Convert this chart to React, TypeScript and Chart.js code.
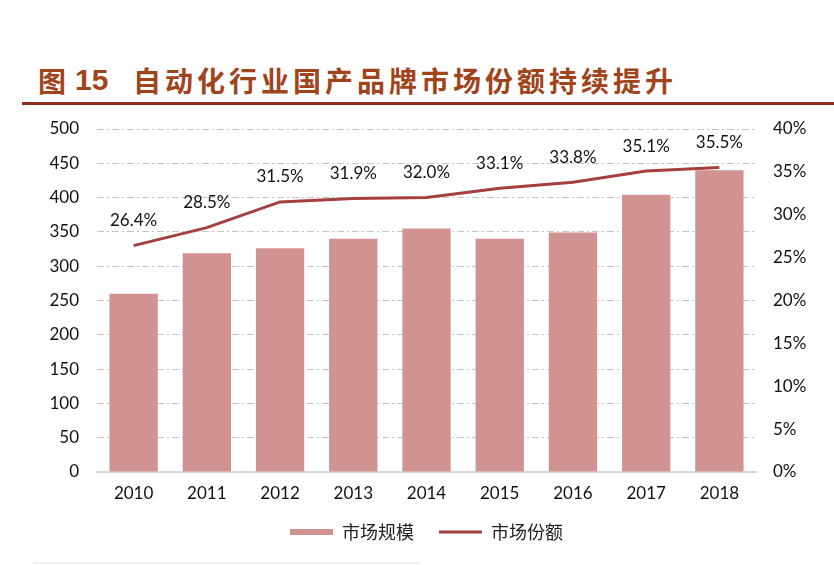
import React, { useEffect, useRef } from 'react';
import { Chart, registerables } from 'chart.js';

Chart.register(...registerables);

const years = ['2010', '2011', '2012', '2013', '2014', '2015', '2016', '2017', '2018'];
const marketSize = [260, 319, 326, 340, 355, 340, 349, 404, 440];
const marketShare = [26.4, 28.5, 31.5, 31.9, 32.0, 33.1, 33.8, 35.1, 35.5];
const seriesNames = ['市场规模', '市场份额'];
const titleNo = '15';
const titleText = '自动化行业国产品牌市场份额持续提升';

const BAR_COLOR = '#D09392';
const LINE_COLOR = '#A5403E';
const TICK_FONT = { family: 'Lato, "Open Sans", sans-serif', size: 17 };

const pointLabels = {
  id: 'pointLabels',
  afterDatasetsDraw(chart: any) {
    const meta = chart.getDatasetMeta(1);
    const ctx = chart.ctx;
    ctx.save();
    ctx.font = '17px Lato, "Open Sans", sans-serif';
    ctx.fillStyle = '#111';
    ctx.textAlign = 'center';
    ctx.textBaseline = 'middle';
    meta.data.forEach((pt: any, i: number) => {
      ctx.fillText(marketShare[i].toFixed(1) + '%', pt.x, pt.y - 25);
    });
    ctx.restore();
  },
};

export default function App() {
  const ref = useRef<HTMLCanvasElement>(null);

  useEffect(() => {
    if (!ref.current) return;
    const chart = new Chart(ref.current, {
      type: 'bar',
      data: {
        labels: years,
        datasets: [
          {
            type: 'bar',
            label: seriesNames[0],
            data: marketSize,
            backgroundColor: BAR_COLOR,
            borderWidth: 0,
            barPercentage: 0.66,
            categoryPercentage: 1,
            yAxisID: 'y',
            order: 1,
          },
          {
            type: 'line',
            label: seriesNames[1],
            data: marketShare,
            borderColor: LINE_COLOR,
            backgroundColor: LINE_COLOR,
            borderWidth: 3,
            pointRadius: 0,
            tension: 0,
            yAxisID: 'y1',
            order: 0,
          } as any,
        ],
      },
      options: {
        responsive: false,
        animation: false,
        layout: { padding: { top: 19, bottom: 14, left: 0, right: 0 } },
        plugins: {
          tooltip: { enabled: false },
          legend: {
            position: 'bottom',
            fullSize: false,
            labels: {
              usePointStyle: true,
              pointStyleWidth: 43,
              boxHeight: 6,
              padding: 10,
              color: '#222',
              font: { family: '"Noto Sans CJK SC", sans-serif', size: 18 },
              generateLabels: (c: any) => [
                {
                  text: c.data.datasets[0].label + '\u2002\u2004',
                  fillStyle: BAR_COLOR,
                  strokeStyle: BAR_COLOR,
                  lineWidth: 0,
                  pointStyle: 'rect',
                  hidden: false,
                  datasetIndex: 0,
                  fontColor: '#222',
                },
                {
                  text: c.data.datasets[1].label,
                  fillStyle: LINE_COLOR,
                  strokeStyle: LINE_COLOR,
                  lineWidth: 3,
                  pointStyle: 'line',
                  hidden: false,
                  datasetIndex: 1,
                  fontColor: '#222',
                },
              ],
            },
          },
        },
        scales: {
          x: {
            grid: { display: false, drawTicks: false },
            border: { display: true, color: '#d9d9d9', width: 2 },
            ticks: { color: '#111', font: TICK_FONT, padding: 11 },
            afterFit: (s: any) => { s.height = 41; },
          },
          y: {
            position: 'left',
            min: 0,
            max: 500,
            ticks: { stepSize: 50, color: '#111', font: TICK_FONT, padding: 18 },
            grid: { color: '#c4c4c4', lineWidth: 1, drawTicks: false },
            border: { display: false, dash: [7, 3, 2, 3] },
            afterFit: (s: any) => { s.width = 97; s.paddingTop = 10; s.paddingBottom = 10; },
          },
          y1: {
            position: 'right',
            min: 0,
            max: 40,
            ticks: {
              stepSize: 5,
              color: '#111',
              font: TICK_FONT,
              padding: 17,
              callback: (v: any) => v + '%',
            },
            grid: { display: false, drawTicks: false },
            border: { display: false },
            afterFit: (s: any) => { s.width = 78; s.paddingTop = 10; s.paddingBottom = 10; },
          },
        },
      },
      plugins: [pointLabels],
    });
    return () => chart.destroy();
  }, []);

  const cjk = '"Noto Sans CJK SC", sans-serif';
  return (
    <div style={{ position: 'absolute', left: 0, top: 0, width: 834, height: 565, background: '#fff', overflow: 'hidden' }}>
      <div style={{ position: 'absolute', left: 38, top: 64, height: 32, lineHeight: '32px', fontFamily: cjk, fontWeight: 700, fontSize: 28, color: '#A0441C', whiteSpace: 'nowrap' }}>图</div>
      <div style={{ position: 'absolute', left: 75, top: 64, height: 32, lineHeight: '32px', fontFamily: '"Liberation Sans", Arial, sans-serif', fontWeight: 700, fontSize: 30, color: '#A0441C', whiteSpace: 'nowrap' }}>{titleNo}</div>
      <div style={{ position: 'absolute', left: 133, top: 64, height: 32, lineHeight: '32px', fontFamily: cjk, fontWeight: 700, fontSize: 28, letterSpacing: 4, color: '#A0441C', whiteSpace: 'nowrap' }}>{titleText}</div>
      <div style={{ position: 'absolute', left: 22, top: 102, width: 812, height: 3, background: '#912C1F' }} />
      <canvas ref={ref} width={834} height={455} style={{ position: 'absolute', left: 0, top: 110, display: 'block' }} />
      <div style={{ position: 'absolute', left: 33, top: 562, width: 387, height: 2, background: '#f0f0ec' }} />
    </div>
  );
}
